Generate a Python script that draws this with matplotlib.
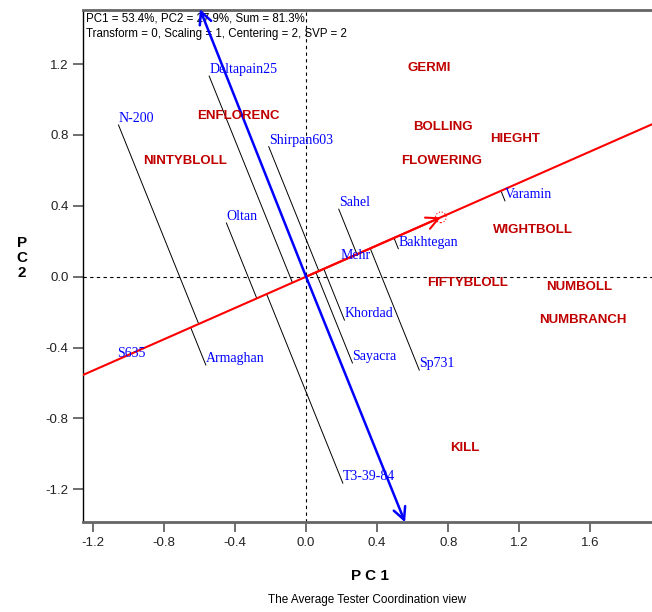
import numpy as np
import matplotlib
matplotlib.use("Agg")
import matplotlib.pyplot as plt
from matplotlib.patches import Circle

# ---------------- data ----------------
genotypes = ["Deltapain25", "N-200", "Shirpan603", "Oltan", "Sahel", "Mehr",
             "Bakhtegan", "Varamin", "Khordad", "Sayacra", "Sp731", "Armaghan",
             "S635", "T3-39-84"]
gen_x = [-0.545, -1.055, -0.210, -0.448, 0.184, 0.193, 0.519, 1.119,
         0.216, 0.261, 0.637, -0.564, -1.065, 0.207]
gen_y = [1.132, 0.856, 0.734, 0.303, 0.381, 0.085, 0.158, 0.428,
         -0.245, -0.487, -0.527, -0.498, -0.470, -1.165]

traits = ["GERMI", "ENFLORENC", "BOLLING", "HIEGHT", "NINTYBLOLL", "FLOWERING",
          "WIGHTBOLL", "FIFTYBLOLL", "NUMBOLL", "NUMBRANCH", "KILL"]
trait_x = [0.693, -0.379, 0.771, 1.175, -0.682, 0.760, 1.276, 0.906, 1.539, 1.556, 0.895]
trait_y = [1.177, 0.907, 0.845, 0.777, 0.654, 0.654, 0.265, -0.034, -0.056, -0.242, -0.969]

avg_tester = (0.758, 0.335)          # average tester position
ordinate_top = (-0.597, 1.510)       # ATC ordinate ends
ordinate_bottom = (0.557, -1.386)

xticks = [-1.2, -0.8, -0.4, 0.0, 0.4, 0.8, 1.2, 1.6]
yticks = [-1.2, -0.8, -0.4, 0.0, 0.4, 0.8, 1.2]

info1 = "PC1 = 53.4%, PC2 = 27.9%, Sum = 81.3%"
info2 = "Transform = 0, Scaling = 1, Centering = 2, SVP = 2"

# ---------------- figure ----------------
fig = plt.figure(figsize=(6.52, 6.12), dpi=100)
ax = fig.add_axes([83.3/652, (612 - 522.3)/612, 1 - 83.3/652, (522.3 - 10)/612])
xlim = (-1.253, 1.946)
ylim = (-1.386, 1.505)
ax.set_xlim(*xlim)
ax.set_ylim(*ylim)

sans = "Liberation Sans"
serif = "Liberation Serif"

# zero lines
ax.axhline(0, color="black", ls=(0, (3, 3)), lw=0.8, zorder=1)
ax.axvline(0, color="black", ls=(0, (3, 3)), lw=0.8, zorder=1)

# ATC abscissa (red)
m = avg_tester[1] / avg_tester[0]
xs = np.array(xlim)
ax.plot(xs, m * xs, color="red", lw=1.5, zorder=3)
ax.annotate("", xy=avg_tester, xytext=(0, 0),
            arrowprops=dict(arrowstyle="->", color="red", lw=1.5,
                            mutation_scale=22, shrinkA=0, shrinkB=0), zorder=4)
ax.add_patch(Circle(avg_tester, 0.03, fill=False, ec="red", ls=":", lw=0.8, zorder=4))

# ATC ordinate (blue, double arrow)
for end in (ordinate_top, ordinate_bottom):
    ax.annotate("", xy=end, xytext=(0, 0), annotation_clip=False,
                arrowprops=dict(arrowstyle="->", color="blue", lw=1.8,
                                mutation_scale=22, shrinkA=0, shrinkB=0), zorder=4)

# projection lines (parallel to ordinate) from genotypes to the abscissa
dvec = np.array(ordinate_bottom) / ordinate_bottom[0]
for gx, gy in zip(gen_x, gen_y):
    t = (gy - m * gx) / (m - dvec[1])
    ex, ey = gx + t, gy + t * dvec[1]
    ax.plot([gx, ex], [gy, ey], color="black", lw=0.7, zorder=2)

# genotype labels
for name, gx, gy in zip(genotypes, gen_x, gen_y):
    ax.text(gx, gy, name, color="blue", fontsize=10, family=serif,
            ha="left", va="bottom", zorder=5)

# trait labels
for name, tx, ty in zip(traits, trait_x, trait_y):
    ax.text(tx, ty, name, color="#c00000", fontsize=9.5, family=sans,
            fontweight="bold", ha="center", va="center", zorder=5)

# info text
ax.text(0.004, 0.995, info1, transform=ax.transAxes, fontsize=8.3, family=sans,
        ha="left", va="top")
ax.text(0.004, 0.964, info2, transform=ax.transAxes, fontsize=8.3, family=sans,
        ha="left", va="top")

# axes styling
ax.spines["right"].set_visible(False)
ax.spines["left"].set_color("black")
ax.spines["left"].set_linewidth(1.0)
for s in ("bottom", "top"):
    ax.spines[s].set_color("#666666")
    ax.spines[s].set_linewidth(2.0)
ax.set_xticks(xticks)
ax.set_yticks(yticks)
ax.set_xticklabels([f"{v:.1f}" for v in xticks], family=sans, fontsize=9.5)
ax.set_yticklabels([f"{v:.1f}" for v in yticks], family=sans, fontsize=9.5)
ax.tick_params(axis="both", direction="out", length=7.5, width=1.2, color="#555555",
               labelcolor="#222222", pad=3)
ax.tick_params(axis="x", top=False)

fig.text(370/652, 1 - 576/612, "P C 1", fontsize=11, fontweight="bold",
         family=sans, ha="center", va="center")
fig.text(22/652, 1 - 258/612, "P\nC\n2", fontsize=11, fontweight="bold",
         family=sans, ha="center", va="center", linespacing=1.1)
fig.text(367/652, 1 - 600/612, "The Average Tester Coordination view",
         fontsize=8.5, family=sans, ha="center", va="center")

fig.savefig("out.png", dpi=100)
